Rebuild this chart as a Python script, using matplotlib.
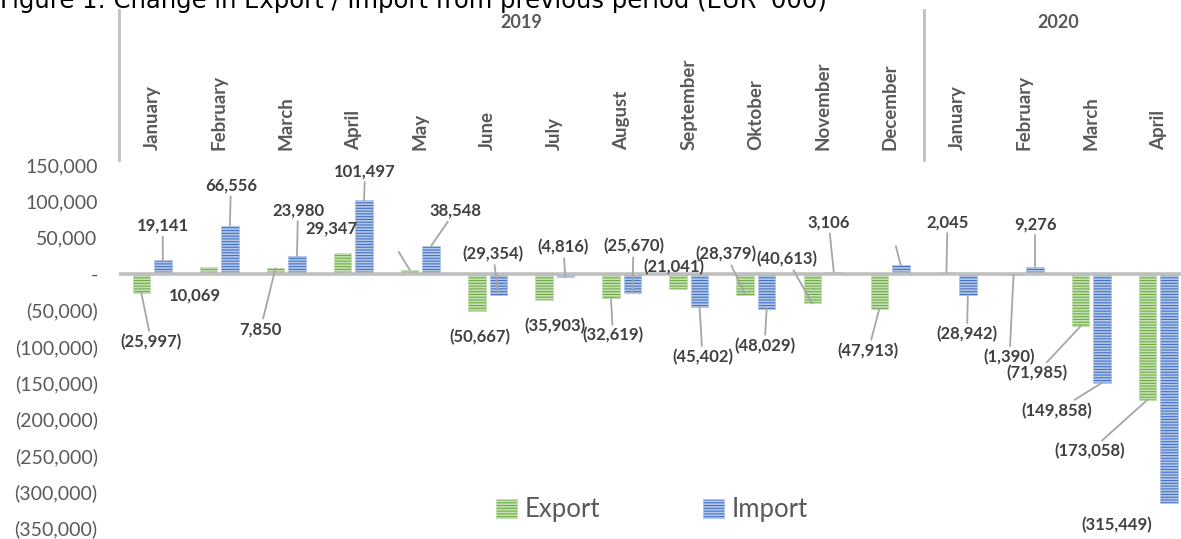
import matplotlib.pyplot as plt
import matplotlib.transforms as mtransforms
from matplotlib.patches import Patch
from matplotlib.ticker import FuncFormatter
import numpy as np

# monthly change vs previous period, EUR '000
months = ['January', 'February', 'March', 'April', 'May', 'June', 'July',
          'August', 'September', 'Oktober', 'November', 'December',
          'January', 'February', 'March', 'April']
years = ['2019', '2020']
months_per_year = [12, 4]
export = [-25997, 10069, 7850, 29347, 5600, -50667, -35903, -32619,
          -21041, -28379, -40613, -47913, 2045, -1390, -71985, -173058]
imports = [19141, 66556, 23980, 101497, 38548, -29354, -4816, -25670,
           -45402, -48029, 3106, 12000, -28942, 9276, -149858, -315449]

# labels that were left out of the chart (only the leader line remains)
export_hidden = {4}
import_hidden = {11}

# label offsets from the bar end in pixels (dx, dy downwards) and leader line flag
export_lab = [(10, 49, True), (-13, 29, False), (-15, 61, True), (-11, -24, False),
              (-11, -18, True), (3, 26, False), (11, 26, False), (2, 38, True),
              (-4, -22, False), (-19, -40, True), (-25, -44, True), (-11, 42, True),
              (1, -50, True), (-4, 82, True), (-44, 47, True), (-58, 52, True)]
import_lab = [(0, -34, True), (1, -40, True), (1, -46, True), (1, -29, True),
              (24, -35, True), (-5, -41, True), (-2, -30, True), (1, -46, True),
              (3, 50, True), (-2, 37, True), (-5, -49, True), (-5, -19, True),
              (-1, 39, True), (0, -43, True), (-45, 28, True), (-52, 22, False)]

GREEN, GREEN_LT = '#70AD47', '#C5E0B4'
BLUE, BLUE_LT = '#4472C4', '#B4C7E7'
GREY_TXT = '#595959'
LAB_TXT = '#404040'
LINE = '#BFBFBF'

plt.rcParams['font.family'] = ['Lato', 'DejaVu Sans']
plt.rcParams['hatch.linewidth'] = 1.2

W, H = 1181, 539
fig = plt.figure(figsize=(W / 100, H / 100), dpi=100)
ax = fig.add_axes([118.5 / W, (H - 528) / H, 1073.5 / W, 363 / H])

x = np.arange(len(months))
bw = 0.26
off = 0.16
ax.bar(x - off, export, bw, color=GREEN, edgecolor=GREEN_LT, hatch='------',
       linewidth=0.6, zorder=2)
ax.bar(x + off, imports, bw, color=BLUE, edgecolor=BLUE_LT, hatch='------',
       linewidth=0.6, zorder=2)
ax.axhline(0, color=LINE, lw=2.6, zorder=3)

ax.set_xlim(-0.5, len(months) - 0.5)
ax.set_ylim(-350000, 150000)
ax.set_yticks(np.arange(-350000, 150001, 50000))


def fmt(v, pos=None):
    if v == 0:
        return '-'
    if v < 0:
        return '({:,.0f})'.format(-v)
    return '{:,.0f}'.format(v)


ax.yaxis.set_major_formatter(FuncFormatter(fmt))
ax.tick_params(axis='y', length=0, pad=15, labelsize=14, labelcolor=GREY_TXT)

ax.xaxis.tick_top()
ax.set_xticks(x)
ax.set_xticklabels(months, rotation=90, fontsize=13.5, fontweight='bold', color=GREY_TXT)
ax.tick_params(axis='x', length=0, pad=11)
for s in ax.spines.values():
    s.set_visible(False)


def label_bars(xs, vals, lab, hidden):
    for xi, v, (dx, dy, leader), i in zip(xs, vals, lab, range(len(vals))):
        text = '' if i in hidden else fmt(v)
        arrow = dict(arrowstyle='-', color='#A6A6A6', lw=1.3, shrinkA=0, shrinkB=0) if leader else None
        ax.annotate(text, xy=(xi, v), xytext=(dx, -dy), textcoords='offset pixels',
                    ha='center', va='center', fontsize=12, fontweight='bold',
                    color=LAB_TXT, arrowprops=arrow, zorder=4, annotation_clip=False)


label_bars(x - off, export, export_lab, export_hidden)
label_bars(x + off, imports, import_lab, import_hidden)

# year groups above the month labels
trans = mtransforms.blended_transform_factory(ax.transData, fig.transFigure)
start = -0.5
for yr, n in zip(years, months_per_year):
    ax.plot([start, start], [1 - 160 / H, 1 - 10 / H], color=LINE, lw=2,
            transform=trans, clip_on=False)
    ax.text(start + n / 2, 1 - 22 / H, yr, transform=trans, ha='center', va='center',
            fontsize=13, fontweight='bold', color=GREY_TXT)
    start += n

fig.text(0.0, 1 - 8 / H, "Figure 1: Change in Export / Import from previous period (EUR '000)",
         fontsize=17.5, ha='left', va='baseline', color='black', family='DejaVu Sans')

handles = [Patch(facecolor=GREEN, edgecolor=GREEN_LT, hatch='------', linewidth=0.6, label='Export'),
           Patch(facecolor=BLUE, edgecolor=BLUE_LT, hatch='------', linewidth=0.6, label='Import')]
fig.legend(handles=handles, loc='center', bbox_to_anchor=(652 / W, 1 - 510 / H), ncol=2,
           frameon=False, fontsize=18.5, labelcolor=GREY_TXT, handlelength=0.8,
           handleheight=0.8, handletextpad=0.3, columnspacing=4.0)

fig.savefig('out.png', dpi=100)
